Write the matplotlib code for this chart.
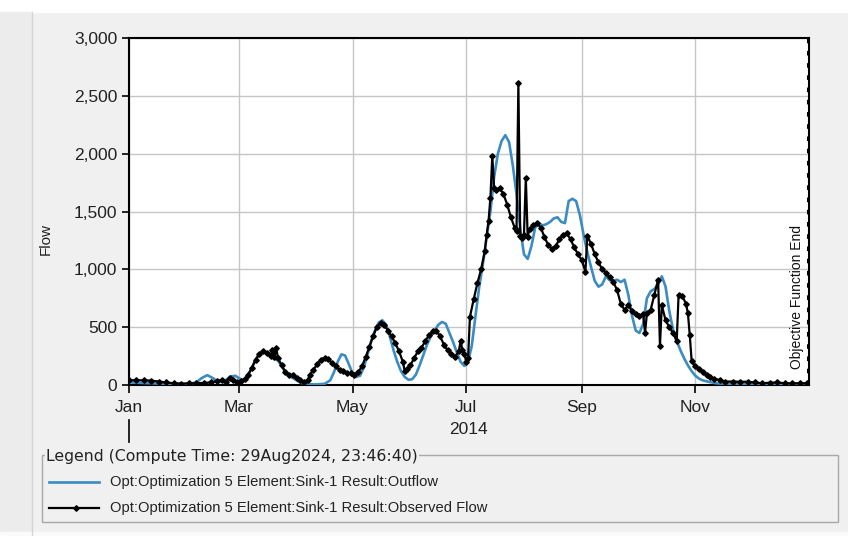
import pandas as pd
import matplotlib
matplotlib.use("Agg")
import matplotlib.pyplot as plt
import matplotlib.dates as mdates
from matplotlib.lines import Line2D
from matplotlib.patches import Rectangle
from matplotlib.ticker import StrMethodFormatter

plt.rcParams["font.family"] = ["Liberation Sans", "DejaVu Sans"]

START = pd.Timestamp("2014-01-01")

# simulated outflow: day offset from Jan 1 2014, flow
out_days = [0, 10, 20, 30, 36, 39, 42, 45, 48, 51, 54, 57, 60, 62, 64, 66, 68, 70, 72, 74,
            76, 78, 80, 82, 84, 86, 88, 90, 92, 95, 100, 105, 108, 110, 112, 114, 116, 118, 120, 122,
            124, 126, 128, 130, 132, 134, 136, 138, 140, 142, 144, 146, 148, 150, 152, 154, 156, 158, 160, 162,
            164, 166, 168, 170, 172, 174, 176, 178, 180, 182, 184, 186, 188, 190, 192, 194, 196, 198, 200, 202,
            204, 206, 208, 210, 212, 214, 216, 218, 220, 222, 224, 226, 228, 230, 232, 234, 236, 238, 240, 242,
            244, 246, 248, 250, 252, 254, 256, 258, 260, 262, 264, 266, 268, 270, 272, 274, 276, 278, 280, 282,
            284, 286, 288, 290, 292, 294, 296, 298, 300, 302, 304, 306, 308, 311, 315, 320, 330, 340, 364]
out_flow = [22, 16, 10, 8, 20, 60, 85, 60, 25, 30, 70, 80, 50, 40, 90, 150, 220, 270, 285, 275,
            250, 230, 210, 160, 110, 80, 60, 40, 20, 8, 5, 10, 40, 110, 200, 265, 255, 180, 100, 70,
            80, 150, 260, 380, 470, 540, 560, 520, 420, 300, 200, 120, 70, 45, 50, 90, 170, 260, 350, 420,
            470, 520, 545, 530, 450, 370, 280, 200, 165, 200, 340, 600, 850, 1050, 1280, 1500, 1800, 2000, 2110, 2160,
            2100, 1900, 1650, 1350, 1130, 1090, 1200, 1360, 1400, 1380, 1390, 1410, 1440, 1450, 1410, 1400, 1590, 1610, 1590, 1470,
            1300, 1150, 1020, 900, 850, 870, 940, 905, 900, 910, 890, 910, 780, 600, 470, 450, 530, 750, 810, 830,
            870, 940, 850, 640, 480, 380, 300, 230, 170, 120, 80, 55, 40, 28, 15, 10, 6, 5, 4]

# observed flow: day offset from Jan 1 2014, flow
obs_days = [0, 4, 8, 12, 16, 20, 24, 28, 32, 36, 40, 44, 47, 50, 52, 54, 56, 58, 60, 62,
            64, 66, 68, 70, 72, 74, 76, 77, 78, 79, 80, 82, 84, 86, 88, 90, 92, 94, 96, 97,
            99, 101, 103, 105, 107, 109, 111, 113, 115, 117, 119, 121, 123, 125, 127, 129, 131, 133, 135, 137,
            139, 141, 143, 145, 147, 148, 149, 151, 153, 155, 157, 159, 161, 163, 165, 167, 169, 171, 173, 175,
            177, 178, 179, 180, 181, 182, 183, 185, 187, 189, 191, 192, 193, 194, 195, 196, 197, 199, 201, 203,
            205, 207, 208, 209, 210, 211, 212, 213, 214, 215, 217, 219, 221, 223, 225, 227, 229, 231, 233, 235,
            237, 239, 241, 243, 245, 246, 248, 250, 252, 254, 256, 258, 260, 262, 264, 266, 268, 270, 272, 274,
            276, 277, 278, 280, 282, 284, 285, 286, 288, 290, 292, 294, 295, 297, 299, 300, 301, 302, 304, 306,
            308, 310, 312, 314, 317, 320, 324, 328, 332, 336, 340, 344, 348, 352, 356, 360, 364]
obs_flow = [40, 42, 40, 38, 30, 22, 15, 12, 14, 15, 18, 22, 35, 45, 28, 60, 40, 30, 35, 50,
            90, 150, 220, 270, 290, 280, 250, 300, 240, 320, 230, 170, 110, 85, 90, 60, 40, 25, 40, 90,
            130, 180, 220, 235, 225, 190, 160, 130, 120, 105, 100, 90, 110, 160, 240, 330, 420, 500, 535, 520,
            470, 420, 360, 290, 200, 120, 140, 170, 230, 290, 320, 380, 430, 465, 470, 420, 350, 300, 270, 245,
            290, 380, 300, 270, 200, 230, 590, 740, 880, 1000, 1160, 1300, 1420, 1620, 1980, 1700, 1690, 1700, 1650, 1560,
            1450, 1360, 1330, 2610, 1290, 1270, 1300, 1790, 1280, 1350, 1380, 1400, 1360, 1280, 1210, 1180, 1200, 1260, 1300, 1310,
            1260, 1190, 1130, 1080, 980, 1290, 1220, 1130, 1060, 1000, 970, 930, 890, 820, 700, 650, 690, 640, 610, 600,
            610, 450, 620, 650, 780, 910, 340, 690, 560, 500, 450, 380, 780, 770, 700, 620, 430, 210, 160, 140,
            110, 85, 65, 55, 43, 30, 30, 28, 28, 22, 15, 20, 22, 15, 15, 15, 15]

tick_months = [1, 3, 5, 7, 9, 11]
legend_title = "Legend (Compute Time: 29Aug2024, 23:46:40)"
label_out = "Opt:Optimization 5 Element:Sink-1 Result:Outflow"
label_obs = "Opt:Optimization 5 Element:Sink-1 Result:Observed Flow"

BLUE = "#3b8cc2"
W, H = 848, 536


def fx(x):
    return x / W


def fy(y):
    return 1 - y / H


fig = plt.figure(figsize=(W / 100, H / 100), dpi=100, facecolor="#f0f0f0")

# window frame bits
fig.add_artist(Rectangle((0, fy(12)), 1, 12 / H, transform=fig.transFigure, color="white", zorder=0))
fig.add_artist(Rectangle((0, 0), fx(31), fy(12), transform=fig.transFigure, color="#ececec", zorder=0))
fig.add_artist(Line2D([fx(31.5)] * 2, [0, fy(12)], color="#d4d4d4", lw=1))
fig.add_artist(Rectangle((0, 0), 1, 4 / H, transform=fig.transFigure, color="#fafafa", zorder=0))

ax = fig.add_axes([fx(129), fy(385), (809 - 129) / W, (385 - 38) / H])
ax.set_facecolor("white")

t_out = START + pd.to_timedelta(out_days, unit="D")
t_obs = START + pd.to_timedelta(obs_days, unit="D")

ax.plot(t_out, out_flow, color=BLUE, lw=1.9, zorder=3)
ax.plot(t_obs, obs_flow, color="black", lw=1.6, marker="D", ms=2.8, zorder=4)

end = START + pd.Timedelta(days=365)
ax.set_xlim(START, end)
ax.set_ylim(0, 3000)
ax.axvline(end - pd.Timedelta(hours=14), color="black", lw=2.2, dashes=(1.5, 2.5), zorder=5)

ax.set_xticks([pd.Timestamp(2014, m, 1) for m in tick_months])
ax.xaxis.set_major_formatter(mdates.DateFormatter("%b"))
ax.yaxis.set_major_locator(plt.MultipleLocator(500))
ax.yaxis.set_major_formatter(StrMethodFormatter("{x:,.0f}"))

ax.grid(True, color="#c6c6c6", lw=1)
ax.set_axisbelow(True)
ax.tick_params(direction="out", length=5, width=1.2, labelsize=12.5, labelcolor="#222222")
ax.tick_params(axis="x", length=6, pad=5)
for s in ax.spines.values():
    s.set_linewidth(1.5)

ax.annotate("Objective Function End", xy=(1, 0), xycoords="axes fraction",
            xytext=(-12, 16), textcoords="offset pixels", rotation=90,
            ha="center", va="bottom", fontsize=10, color="#111111")

fig.text(fx(46), fy(239), "Flow", rotation=90, ha="center", va="center", fontsize=11, color="#222222")
fig.text(fx(468), fy(430), "2014", ha="center", va="center", fontsize=12.5, color="#222222")
fig.add_artist(Line2D([fx(129)] * 2, [fy(420), fy(442)], color="black", lw=1.2))

# legend panel
fig.add_artist(Rectangle((fx(42), fy(522)), (838 - 42) / W, (522 - 455) / H,
                         transform=fig.transFigure, fill=False, edgecolor="#a8a8a8", lw=1))
fig.text(fx(46), fy(457), legend_title, ha="left", va="center", fontsize=11.3,
         family=["DejaVu Sans"], color="#222222",
         bbox=dict(facecolor="#f0f0f0", edgecolor="none", pad=1))
fig.add_artist(Line2D([fx(49), fx(99)], [fy(482)] * 2, color=BLUE, lw=1.9))
fig.add_artist(Line2D([fx(49), fx(99)], [fy(508)] * 2, color="black", lw=1.6))
fig.add_artist(Line2D([fx(76)], [fy(508)], color="black", marker="D", ms=2.8))
fig.text(fx(110), fy(482), label_out, ha="left", va="center", fontsize=10.6, color="#222222")
fig.text(fx(110), fy(508), label_obs, ha="left", va="center", fontsize=10.6, color="#222222")

fig.savefig("out.png", dpi=100, facecolor=fig.get_facecolor())
